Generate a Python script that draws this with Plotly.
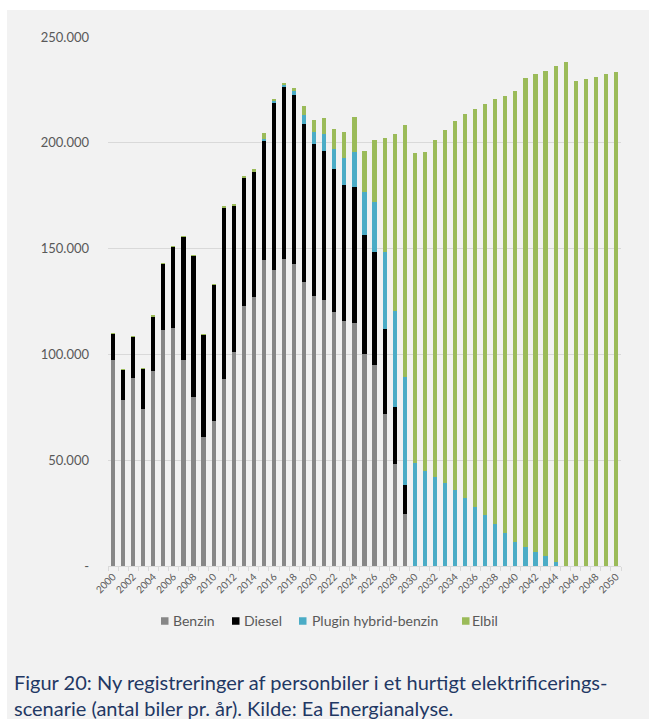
import plotly.graph_objects as go

years = list(range(2000, 2051))

benzin = [97.5, 78.6, 88.8, 74.1, 92.0, 111.3, 112.6, 97.5, 79.9, 61.2,
          68.6, 88.4, 101.1, 123.1, 127.0, 144.7, 140.1, 145.1, 142.8, 134.0,
          127.5, 125.8, 120.1, 115.6, 114.8, 100.3, 94.8, 71.8, 48.3, 24.8,
          0, 0, 0, 0, 0, 0, 0, 0, 0, 0,
          0, 0, 0, 0, 0, 0, 0, 0, 0, 0, 0]
diesel = [12.3, 14.3, 19.7, 19.3, 26.1, 31.6, 38.2, 58.0, 66.8, 48.1,
          64.4, 81.1, 69.5, 60.7, 59.4, 56.2, 78.9, 81.3, 79.8, 75.1,
          71.9, 70.4, 67.5, 64.6, 64.5, 56.3, 53.5, 40.3, 26.7, 13.7,
          0, 0, 0, 0, 0, 0, 0, 0, 0, 0,
          0, 0, 0, 0, 0, 0, 0, 0, 0, 0, 0]
plugin = [0, 0, 0, 0, 0, 0, 0, 0, 0, 0,
          0, 0, 0, 0, 0.2, 0.8, 0.8, 0.8, 1.9, 4.1,
          5.8, 7.9, 9.4, 12.5, 16.5, 20.0, 23.9, 36.2, 45.3, 51.0,
          48.9, 45.0, 42.1, 39.2, 35.8, 32.2, 28.0, 23.9, 19.7, 15.6,
          11.3, 9.1, 6.8, 4.6, 2.0, 0, 0, 0, 0, 0, 0]
elbil = [0.3, 0.1, 0.1, 0.1, 0.1, 0.1, 0.1, 0.1, 0.1, 0.3,
         0.2, 0.5, 0.5, 0.5, 0.9, 2.7, 0.8, 1.1, 1.6, 4.1,
         5.7, 7.4, 9.5, 12.2, 16.5, 19.6, 29.2, 54.1, 83.9, 119.1,
         146.5, 150.8, 159.2, 166.9, 174.7, 181.5, 188.2, 194.5, 200.9, 206.7,
         213.1, 221.6, 225.6, 229.5, 234.2, 238.1, 229.1, 230.0, 231.1, 232.4, 233.3]

series_names = ["Benzin", "Diesel", "Plugin hybrid-benzin", "Elbil"]
series_colors = ["#878787", "#000000", "#4BACC6", "#9BBB59"]
series_values = [benzin, diesel, plugin, elbil]

y_tickvals = [0, 50000, 100000, 150000, 200000, 250000]
y_ticktext = ["-", "50.000", "100.000", "150.000", "200.000", "250.000"]
x_tickvals = list(range(2000, 2051, 2))
x_ticktext = [str(v) for v in x_tickvals]

caption = ("Figur 20: Ny registreringer af personbiler i et hurtigt elektrificerings-<br>"
           "scenarie (antal biler pr. år). Kilde: Ea Energianalyse.")

FONT = "Lato, Open Sans, sans-serif"

fig = go.Figure()
for name, color, vals in zip(series_names, series_colors, series_values):
    fig.add_trace(go.Bar(
        x=years, y=[v * 1000 for v in vals], name=name,
        marker=dict(color=color, line=dict(width=0)),
        showlegend=False,
    ))

W, H = 649, 719
ml, mr, mt, mb = 108, 28, 37, 153
pw, ph = W - ml - mr, H - mt - mb

def px_x(p):
    return (p - ml) / pw

def px_y(p):
    return (H - mb - p) / ph

# custom legend (layout positions, in pixels)
legend_square_left = [161, 232, 299, 462]
legend_text_left = [171, 242, 310, 470]
legend_y = 621
sq = 7.5

shapes = [dict(type="rect", xref="paper", yref="paper", layer="below",
               x0=px_x(7), x1=px_x(W + 5), y0=px_y(H + 5), y1=px_y(10),
               fillcolor="#F2F2F2", line=dict(width=0))]
annotations = []
for name, color, sx, tx in zip(series_names, series_colors,
                               legend_square_left, legend_text_left):
    shapes.append(dict(type="rect", xref="paper", yref="paper",
                       x0=px_x(sx), x1=px_x(sx + sq),
                       y0=px_y(legend_y + sq / 2), y1=px_y(legend_y - sq / 2),
                       fillcolor=color, line=dict(width=0)))
    annotations.append(dict(text=name, xref="paper", yref="paper",
                            x=px_x(tx), xanchor="left",
                            y=px_y(legend_y), yanchor="middle",
                            showarrow=False,
                            font=dict(size=14, color="#595959", family=FONT)))

annotations.append(dict(text=caption, xref="paper", yref="paper",
                        x=px_x(12), xanchor="left", y=px_y(668), yanchor="top",
                        align="left", showarrow=False,
                        font=dict(size=20, color="#1F3864", family=FONT)))

fig.update_layout(
    width=W, height=H,
    barmode="stack", bargap=0.58,
    paper_bgcolor="#FFFFFF", plot_bgcolor="#F2F2F2",
    margin=dict(l=ml, r=mr, t=mt, b=mb, pad=0),
    font=dict(family=FONT, color="#595959"),
    showlegend=False,
    shapes=shapes,
    annotations=annotations,
)

fig.update_xaxes(
    range=[1999.5, 2050.5], tickmode="array", tickvals=x_tickvals,
    ticktext=x_ticktext, tickangle=-45, ticks="",
    tickfont=dict(size=10, color="#595959"),
    showgrid=False, showline=True, linecolor="#D9D9D9", linewidth=1,
    zeroline=False,
    minor=dict(ticks="outside", tick0=1999.5, dtick=1, ticklen=4,
               tickcolor="#D9D9D9", showgrid=False),
)
fig.update_yaxes(
    range=[0, 250000], tickmode="array", tickvals=y_tickvals,
    ticktext=y_ticktext, tickfont=dict(size=13, color="#595959"),
    showgrid=True, gridcolor="#D9D9D9", gridwidth=1,
    showline=False, zeroline=False, ticks="", ticklabelstandoff=18,
)

fig.write_html("out.html",
               config={"displayModeBar": False},
               post_script="document.body.style.margin='0';"
                           "document.body.style.overflow='hidden';")
